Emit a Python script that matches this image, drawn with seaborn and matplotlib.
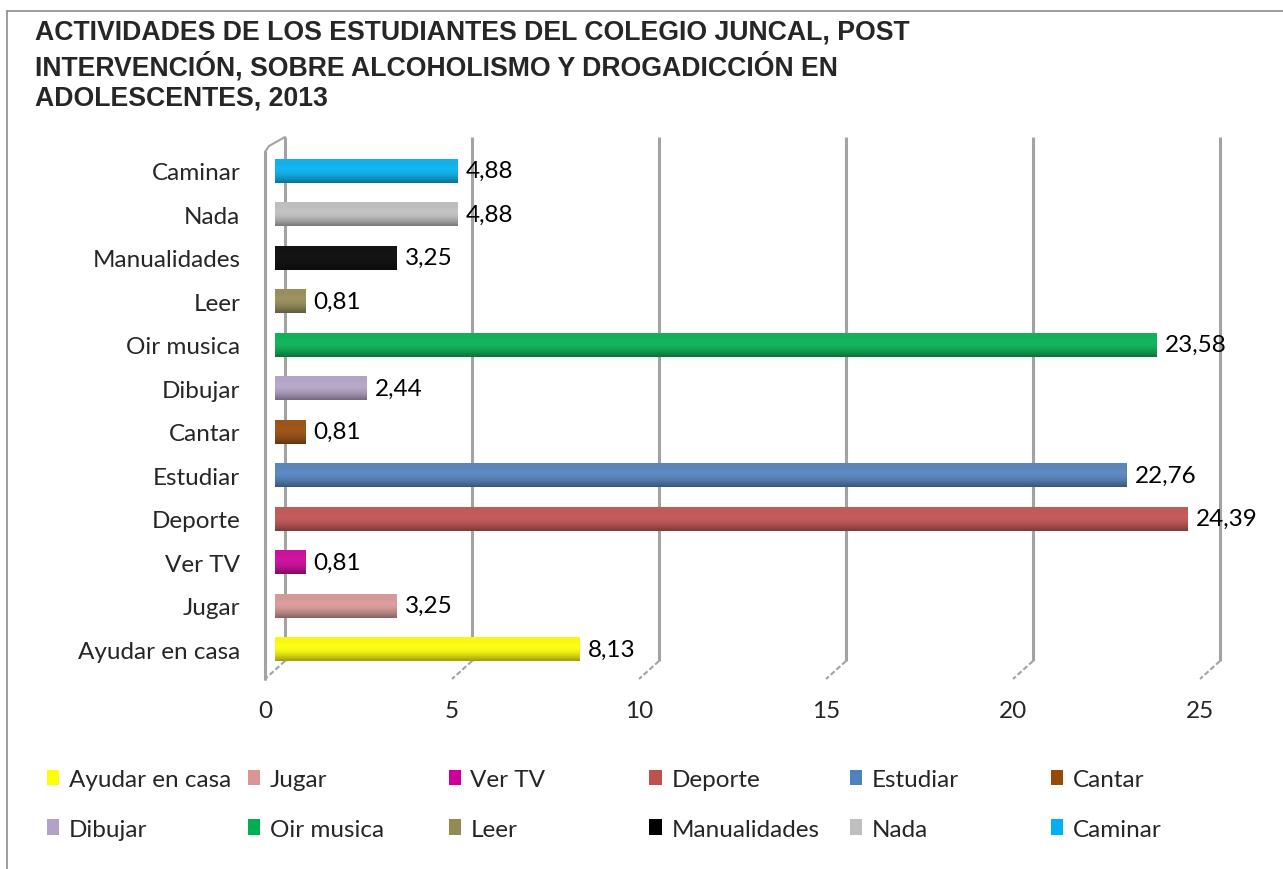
import numpy as np
import pandas as pd
import matplotlib
matplotlib.use("Agg")
import matplotlib.pyplot as plt
import matplotlib.transforms as mtransforms
from matplotlib.patches import Patch
from matplotlib.lines import Line2D
import seaborn as sns

# ---- data ----
categories = ["Ayudar en casa", "Jugar", "Ver TV", "Deporte", "Estudiar", "Cantar",
              "Dibujar", "Oir musica", "Leer", "Manualidades", "Nada", "Caminar"]
values = [8.13, 3.25, 0.81, 24.39, 22.76, 0.81, 2.44, 23.58, 0.81, 3.25, 4.88, 4.88]
colors = ["#FFFF00", "#D99694", "#CC0099", "#C0504D", "#4F81BD", "#984807",
          "#B3A2C7", "#00B050", "#948A54", "#000000", "#BFBFBF", "#00B0F0"]
xticks = [0, 5, 10, 15, 20, 25]
title = ("ACTIVIDADES DE LOS ESTUDIANTES DEL COLEGIO JUNCAL, POST\n"
         "INTERVENCIÓN, SOBRE ALCOHOLISMO Y DROGADICCIÓN EN\n"
         "ADOLESCENTES, 2013")

sns.set_theme(style="white")
plt.rcParams["font.family"] = ["Lato", "DejaVu Sans"]

df = pd.DataFrame({"cat": categories, "val": values})
order = categories[::-1]
palette = dict(zip(categories, colors))

fig = plt.figure(figsize=(12.83, 8.70), dpi=100)
W, H = 1283, 870
ax = fig.add_axes([275 / W, 1 - 672 / H, (1210 - 275) / W, (672 - 150) / H])

sns.barplot(data=df, x="val", y="cat", hue="cat", order=order, hue_order=categories,
            palette=palette, dodge=False, legend=False, width=0.55, ax=ax,
            saturation=1, edgecolor="none")

# cylinder-like shading on each bar
n = 64
g = np.linspace(0, 1, n)
shade = 0.62 + 0.38 * np.sin(np.pi * (0.2 + 0.8 * g))
for p in ax.patches:
    x0, y0 = p.get_x(), p.get_y()
    w, h = p.get_width(), p.get_height()
    rgb = np.array(matplotlib.colors.to_rgb(p.get_facecolor()))
    light = np.clip(rgb + (1 - rgb) * 0.08, 0, 1)
    img = np.zeros((n, 1, 3))
    for i in range(n):
        img[i, 0] = light * shade[i]
    img[: n // 3, 0] = np.maximum(img[: n // 3, 0], light * 0.97)
    im = ax.imshow(img, extent=[x0, x0 + w, y0 + h, y0], aspect="auto",
                   zorder=p.get_zorder() + 0.1, interpolation="bilinear")
    im.set_clip_path(p)

for c in ax.containers:
    ax.bar_label(c, labels=[f"{v:.2f}".replace(".", ",") for v in c.datavalues],
                 padding=6, fontsize=17.5, color="black")

ax.set_xlim(0, 25)
ax.set_ylim(len(categories) - 0.5, -0.5)
ax.set_xticks(xticks)
ax.set_xticklabels([str(t) for t in xticks])
ax.set_xlabel("")
ax.set_ylabel("")
ax.tick_params(axis="x", length=0, pad=21, labelsize=17.5)
ax.tick_params(axis="y", length=0, pad=25, labelsize=17.5)
for s in ax.spines.values():
    s.set_visible(False)

# front (tick) plane is 10px left of the bar plane, back wall 10px right
front = mtransforms.ScaledTranslation(-10 / 100, 0, fig.dpi_scale_trans)
back = mtransforms.ScaledTranslation(10 / 100, 0, fig.dpi_scale_trans)
for lbl in ax.get_xticklabels():
    lbl.set_transform(lbl.get_transform() + front)

btrans = mtransforms.blended_transform_factory(ax.transData, ax.transAxes)
ybot_back = 10 / 522
ybot_front = -8 / 522
ytop_back = 1 + 12 / 522
for t in xticks:
    ax.add_line(Line2D([t, t], [ybot_back, ytop_back], transform=btrans + back,
                       color="#A3A3A3", lw=2.2, zorder=0.5, clip_on=False,
                       solid_capstyle="butt"))
    # diagonal floor edge from back to front
    x_back = ax.transData.transform((t, 0))[0] + 10
    x_front = ax.transData.transform((t, 0))[0] - 10
    yb = ax.transAxes.transform((0, ybot_back))[1]
    yf = ax.transAxes.transform((0, ybot_front))[1]
    fig.add_artist(Line2D([x_back / W, x_front / W], [yb / H, yf / H],
                          transform=fig.transFigure, color="#A3A3A3", lw=1.5,
                          ls=(0, (2.5, 1.2)), zorder=0.5))

# left wall front edge
ax.add_line(Line2D([0, 0], [ybot_front, 1 - 3 / 522], transform=btrans + front,
                   color="#A3A3A3", lw=2.2, zorder=0.5, clip_on=False))
x0p = ax.transData.transform((0, 0))[0]
yt1 = ax.transAxes.transform((0, 1 - 3 / 522))[1]
yt2 = ax.transAxes.transform((0, ytop_back))[1]
fig.add_artist(Line2D([(x0p - 10) / W, (x0p - 6) / W, (x0p + 10) / W],
                      [yt1 / H, (yt1 + 6) / H, yt2 / H],
                      transform=fig.transFigure, color="#A3A3A3", lw=1.5))

# title
fig.text(35 / W, 1 - 20 / H, title, ha="left", va="top", fontsize=19.2,
         fontweight="bold", family="Liberation Sans", linespacing=1.24)

# outer frame (left and top)
fig.add_artist(Line2D([7 / W, 7 / W], [0, 1 - 12 / H], transform=fig.transFigure,
                      color="#8C8C8C", lw=1.2))
fig.add_artist(Line2D([7 / W, 1], [1 - 12 / H, 1 - 12 / H], transform=fig.transFigure,
                      color="#8C8C8C", lw=1.2))

# legend: 6 columns, 2 rows (row-major)
handles = [Patch(facecolor=c, edgecolor="none") for c in colors]
for col in range(6):
    idx = [col, col + 6]
    fig.legend([handles[i] for i in idx], [categories[i] for i in idx],
               loc="upper left", bbox_to_anchor=((47 + col * 200.8) / W, 1 - 770 / H),
               frameon=False, fontsize=17.5, handlelength=0.5, handleheight=0.6,
               handletextpad=0.4, labelspacing=1.18, borderpad=0, borderaxespad=0)

fig.savefig("out.png", dpi=100, facecolor="white")
